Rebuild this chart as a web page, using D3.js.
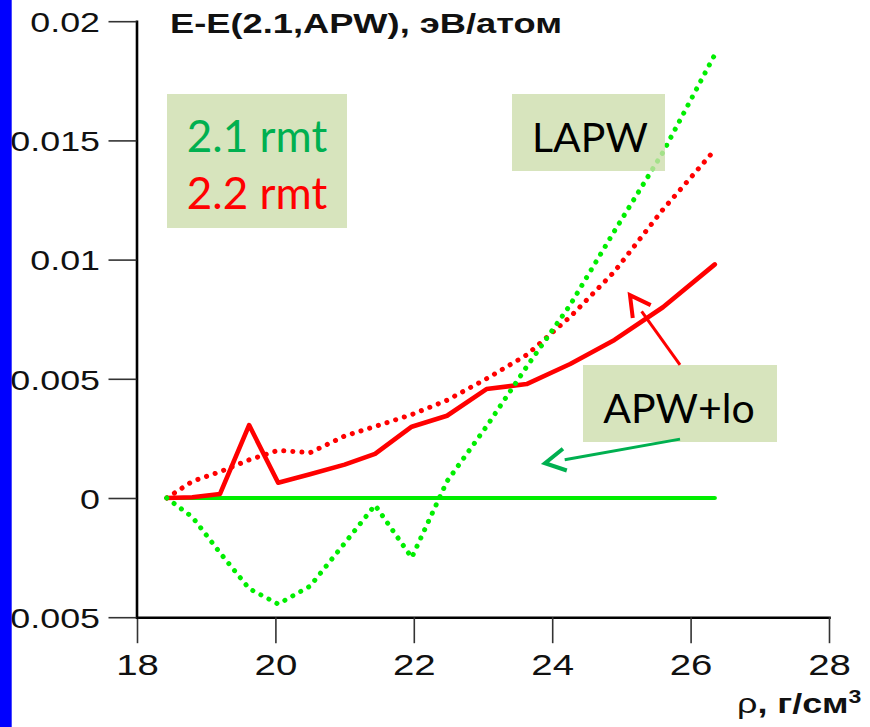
<!DOCTYPE html>
<html>
<head>
<meta charset="utf-8">
<script src="https://cdn.jsdelivr.net/npm/d3@7"></script>
<style>
  body { margin: 0; background: #fff; }
  svg { display: block; }
</style>
</head>
<body>
<svg id="chart" width="870" height="727"></svg>
<script>
// Density, g/cm^3
const density = [18.43, 18.8, 19.2, 19.62, 20.04, 20.5, 21.0, 21.44, 21.97, 22.48, 23.05, 23.63, 24.26, 24.9, 25.6, 26.35];

// E - E(2.1, APW), eV/atom
const apw21  = [0, 0, 0, 0, 0, 0, 0, 0, 0, 0, 0, 0, 0, 0, 0, 0];
const apw22  = [0, 0.00003, 0.00017, 0.00306, 0.00064, 0.001, 0.0014, 0.00185, 0.00299, 0.00345, 0.00457, 0.00478, 0.00562, 0.00663, 0.0080, 0.0098];
const lapw22 = [0, 0.0007, 0.0011, 0.0016, 0.002, 0.0019, 0.0026, 0.0030, 0.0035, 0.0041, 0.0050, 0.0060, 0.0076, 0.0095, 0.0121, 0.0146];
const lapw21 = [0, -0.0008, -0.0023, -0.0038, -0.00445, -0.0037, -0.0019, -0.0003, -0.0025, 0.0007, 0.0030, 0.0055, 0.0081, 0.0112, 0.0145, 0.0186];

const xTicks = [18, 20, 22, 24, 26, 28];
const yTicks = [-0.005, 0, 0.005, 0.01, 0.015, 0.02];

const svg = d3.select("#chart");
const STRETCH = 1.28;
const AXIS_FONT = "'Liberation Sans', Arial, sans-serif";
const BOX_FONT = "Lato, 'Open Sans', sans-serif";

const x = d3.scaleLinear().domain([18, 28]).range([137, 829]);
const y = d3.scaleLinear().domain([-0.005, 0.02]).range([617.2, 21.2]);

// Axes
const gx = svg.append("g")
  .attr("transform", "translate(0,617.2)")
  .call(d3.axisBottom(x).tickValues(xTicks).tickSize(26).tickSizeOuter(0)
    .tickPadding(11).tickFormat(d3.format("d")));

const gy = svg.append("g")
  .attr("transform", "translate(136.5,0)")
  .call(d3.axisLeft(y).tickValues(yTicks).tickSize(28).tickSizeOuter(0)
    .tickFormat(d => String(+d.toFixed(3))));

[gx, gy].forEach(g => {
  g.select(".domain").attr("stroke", "#000").attr("stroke-width", 2.6).attr("stroke-linecap", "square");
  g.selectAll(".tick line").attr("stroke", "#333").attr("stroke-width", 1.6);
  g.selectAll(".tick text")
    .attr("fill", "#111")
    .style("font-family", AXIS_FONT);
});
gx.selectAll(".tick text").style("font-size", "30px")
  .attr("transform", `scale(${STRETCH},1)`);
gy.selectAll(".tick text").style("font-size", "28px")
  .attr("x", -36.5 / STRETCH).attr("dy", "0.37em")
  .attr("transform", `scale(${STRETCH},1)`);

// Series
const pts = vals => density.map((d, i) => [d, vals[i]]);
const line = d3.line().x(d => x(d[0])).y(d => y(d[1]));

const series = [
  { vals: apw21,  color: "#00ee00", width: 4.2, dotted: false },
  { vals: apw22,  color: "#ff0000", width: 4.6, dotted: false },
  { vals: lapw22, color: "#ff0000", width: 5,   dotted: true },
  { vals: lapw21, color: "#00ee00", width: 5,   dotted: true }
];
series.forEach(s => {
  svg.append("path")
    .datum(pts(s.vals))
    .attr("d", line)
    .attr("fill", "none")
    .attr("stroke", s.color)
    .attr("stroke-width", s.width)
    .attr("stroke-linejoin", "round")
    .attr("stroke-linecap", "round")
    .attr("stroke-dasharray", s.dotted ? "0.1 9" : null);
});

// Title and axis name
svg.append("text")
  .attr("transform", `translate(170,33) scale(${STRETCH},1)`)
  .style("font-family", AXIS_FONT).style("font-size", "28px").style("font-weight", "bold")
  .attr("fill", "#111")
  .attr("textLength", 392 / STRETCH).attr("lengthAdjust", "spacingAndGlyphs")
  .text("E-E(2.1,APW), эВ/атом");

const xName = svg.append("text")
  .attr("transform", `translate(737,713) scale(${STRETCH},1)`)
  .style("font-family", AXIS_FONT).style("font-size", "28px")
  .attr("fill", "#111");
xName.append("tspan").text("ρ");
xName.append("tspan").style("font-weight", "bold").text(", г/см");
xName.append("tspan").style("font-weight", "bold").style("font-size", "18px")
  .attr("dy", "-10").text("3");

// Labelled boxes
const BOX_FILL = "rgb(205,221,173)";
function box(x0, y0, w, h) {
  svg.append("rect").attr("x", x0).attr("y", y0).attr("width", w).attr("height", h)
    .attr("fill", BOX_FILL).attr("fill-opacity", 0.8);
}
function label(cx, by, txt, color, size) {
  svg.append("text").attr("x", cx).attr("y", by).attr("text-anchor", "middle")
    .style("font-family", BOX_FONT).style("font-size", size + "px")
    .attr("fill", color).text(txt);
}
box(167, 94, 180, 134);
label(257, 152, "2.1 rmt", "#00b050", 44);
label(257, 209, "2.2 rmt", "#ff0000", 44);

box(512, 94, 153, 77);
label(590, 152, "LAPW", "#000", 41);

box(583, 365, 194, 77);
label(679, 423, "APW+lo", "#000", 41);

// Arrows from the APW+lo box
function arrow(from, tip, color, width) {
  const p0 = [x(from[0]), y(from[1])];
  const p1 = [x(tip[0]), y(tip[1])];
  const dx = p1[0] - p0[0], dy = p1[1] - p0[1];
  const len = Math.hypot(dx, dy);
  const ux = dx / len, uy = dy / len;
  const shaftEnd = [p1[0] - ux * 20, p1[1] - uy * 20];
  svg.append("line")
    .attr("x1", p0[0]).attr("y1", p0[1]).attr("x2", shaftEnd[0]).attr("y2", shaftEnd[1])
    .attr("stroke", color).attr("stroke-width", width);
  const a = 0.5, L = 23;
  const back = [-ux, -uy];
  const rot = t => [back[0] * Math.cos(t) - back[1] * Math.sin(t), back[0] * Math.sin(t) + back[1] * Math.cos(t)];
  const r1 = rot(a), r2 = rot(-a);
  svg.append("path")
    .attr("d", `M${p1[0] + r1[0] * L},${p1[1] + r1[1] * L}L${p1[0]},${p1[1]}L${p1[0] + r2[0] * L},${p1[1] + r2[1] * L}`)
    .attr("fill", "none").attr("stroke", color).attr("stroke-width", width + 1)
    .attr("stroke-linejoin", "miter");
}
arrow([25.847, 0.00558], [25.124, 0.00851], "#ff0000", 3);
arrow([25.847, 0.00247], [23.896, 0.00146], "#00b050", 3);

// Blue strip along the left edge
svg.append("rect").attr("x", 0).attr("y", 0).attr("width", 11.7).attr("height", 727).attr("fill", "#0000ff");
</script>
</body>
</html>
